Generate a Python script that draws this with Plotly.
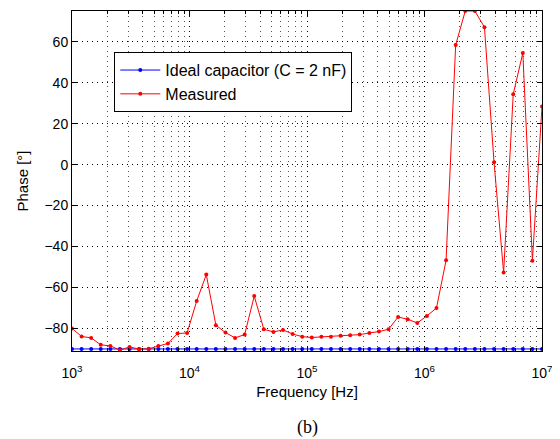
import numpy as np
import plotly.graph_objects as go

# 50 log-spaced frequency points from 1 kHz to 10 MHz
freq = np.logspace(3, 7, 50)

ideal_phase = [-90.0] * 50

measured_phase = [
    -80.0, -83.9, -84.6, -88.0, -88.5, -90.6, -89.0, -90.1, -89.9, -88.6,
    -87.3, -82.5, -82.2, -66.6, -53.7, -78.4, -82.0, -84.6, -83.0, -64.2,
    -80.4, -81.7, -80.7, -82.7, -84.0, -84.4, -84.1, -84.1, -83.5, -83.3,
    -83.0, -82.2, -81.5, -80.4, -74.4, -75.5, -77.3, -73.9, -70.0, -46.7,
    58.4, 75.0, 75.0, 67.1, 1.1, -52.7, 34.4, 54.5, -46.9, 28.4,
]

x_tick_vals = [1e3, 1e4, 1e5, 1e6, 1e7]
x_tick_text = ["10<sup>3</sup>", "10<sup>4</sup>", "10<sup>5</sup>", "10<sup>6</sup>", "10<sup>7</sup>"]
y_tick_vals = [-80, -60, -40, -20, 0, 20, 40, 60]

minor_x = [m * 10 ** d for d in range(3, 7) for m in range(2, 10)]

fig = go.Figure()
fig.add_trace(go.Scatter(
    x=freq, y=ideal_phase, mode="lines+markers",
    name="Ideal capacitor (C = 2 nF)",
    line=dict(color="#0000ff", width=1),
    marker=dict(color="#0000ff", size=4),
))
fig.add_trace(go.Scatter(
    x=freq, y=measured_phase, mode="lines+markers",
    name="Measured",
    line=dict(color="#ff0000", width=1),
    marker=dict(color="#ff0000", size=4),
))

sans = "Liberation Sans, Arial, sans-serif"
tick_font = dict(family=sans, size=14, color="#000000")
title_font = dict(family=sans, size=15, color="#000000")
dots = "1px,4px"

fig.update_layout(
    width=552, height=431,
    margin=dict(l=64, r=18, t=3, b=88),
    paper_bgcolor="white", plot_bgcolor="white",
    font=tick_font,
    showlegend=True,
    legend=dict(
        x=0.09, y=0.879, xanchor="left", yanchor="top",
        bgcolor="white", bordercolor="black", borderwidth=1,
        font=dict(family=sans, size=16, color="#000000"),
        tracegroupgap=0, itemwidth=40,
    ),
    xaxis=dict(
        type="log", range=[3, 7],
        tickmode="array", tickvals=x_tick_vals, ticktext=x_tick_text,
        ticks="inside", ticklen=5, tickcolor="black",
        ticklabelstandoff=9,
        showline=True, linecolor="black", linewidth=1, mirror="allticks",
        showgrid=True, gridcolor="#000000", griddash=dots, gridwidth=1,
        minor=dict(tickmode="array", tickvals=minor_x, ticks="inside", ticklen=3,
                   tickcolor="black", showgrid=True, gridcolor="#555555",
                   griddash=dots, gridwidth=1),
        zeroline=False,
        title=dict(text="Frequency [Hz]", font=title_font, standoff=6),
        tickfont=tick_font,
    ),
    yaxis=dict(
        range=[-91, 75],
        tickmode="array", tickvals=y_tick_vals,
        ticks="inside", ticklen=5, tickcolor="black",
        showline=True, linecolor="black", linewidth=1, mirror="allticks",
        showgrid=True, gridcolor="#000000", griddash=dots, gridwidth=1,
        zeroline=False,
        title=dict(text="Phase [°]", font=title_font, standoff=12),
        tickfont=tick_font,
    ),
    annotations=[dict(
        text="(b)", xref="paper", yref="paper", x=0.5, y=-0.225,
        xanchor="center", yanchor="middle", showarrow=False,
        font=dict(family="Liberation Serif, Times New Roman, serif", size=18, color="black"),
    )],
)

fig.write_html("out.html")
